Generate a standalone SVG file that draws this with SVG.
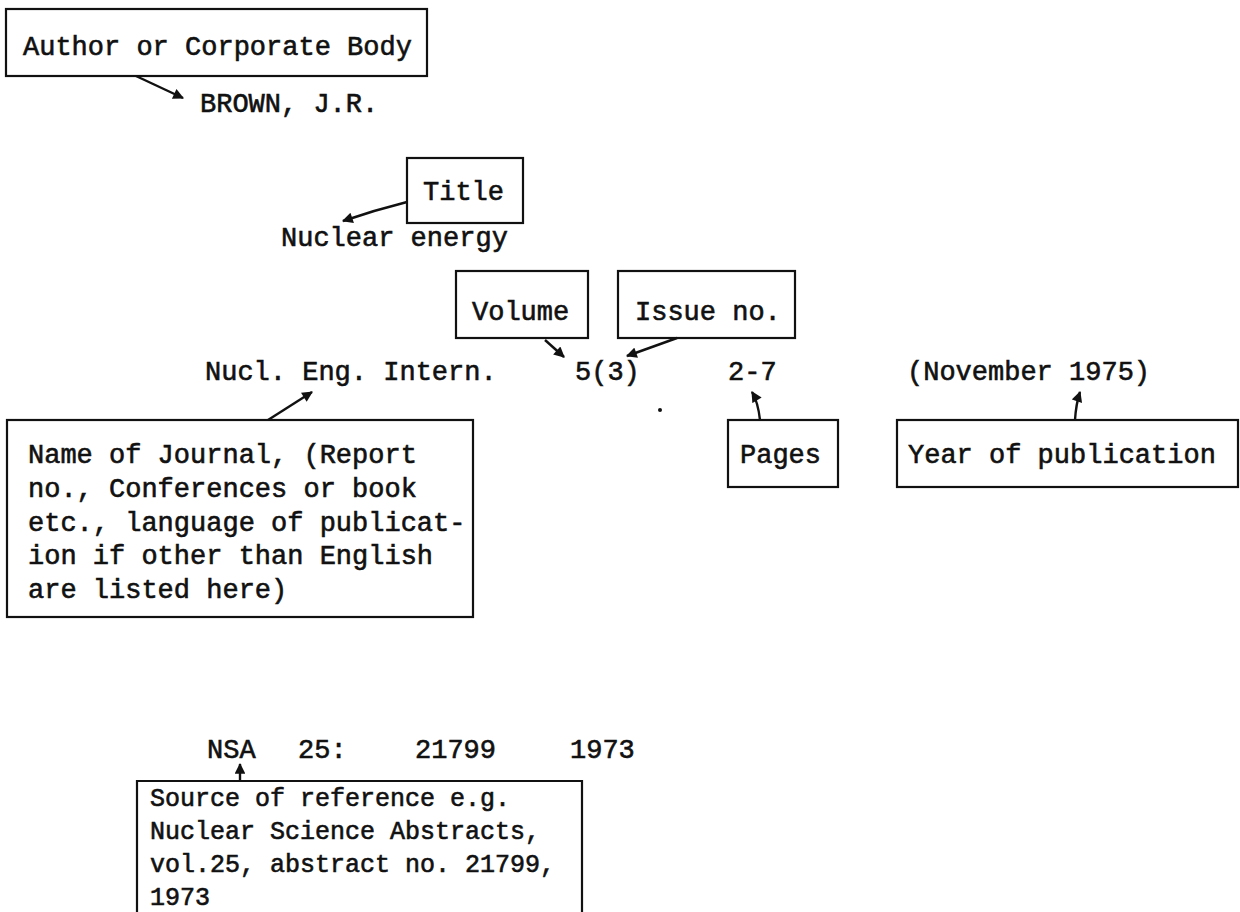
<svg xmlns="http://www.w3.org/2000/svg" width="1240" height="912" viewBox="0 0 1240 912">
<defs>
<style>
text{font-family:"Liberation Mono","DejaVu Sans Mono",monospace;font-size:27px;fill:#111;stroke:#111;stroke-width:0.6}
.sm{font-size:25px}
.box{fill:none;stroke:#111;stroke-width:2.2}
.con{fill:none;stroke:#111;stroke-width:2.4}
</style>
<marker id="ah" viewBox="0 0 10 10" refX="9" refY="5" markerWidth="5" markerHeight="4.5" orient="auto" markerUnits="strokeWidth">
<path d="M0,0 L10,5 L0,10 z" fill="#111"/>
</marker>
</defs>
<rect width="1240" height="912" fill="#fff"/>

<g id="author">
<rect class="box" x="6" y="9" width="421" height="67"/>
<text x="23" y="55">Author or Corporate Body</text>
</g>
<text x="200" y="112">BROWN, J.R.</text>

<g id="title">
<rect class="box" x="407" y="158" width="116" height="65"/>
<text x="423" y="200">Title</text>
</g>
<text x="281" y="246">Nuclear energy</text>

<g id="volume">
<rect class="box" x="456" y="271" width="132" height="67"/>
<text x="472" y="320">Volume</text>
</g>
<g id="issue">
<rect class="box" x="618" y="271" width="177" height="67"/>
<text x="635" y="320">Issue no.</text>
</g>

<text x="205" y="380">Nucl. Eng. Intern.</text>
<text x="575" y="380">5(3)</text>
<text x="728" y="380">2-7</text>
<text x="907" y="380">(November 1975)</text>

<g id="journal">
<rect class="box" x="7" y="420" width="466" height="197"/>
<text x="28" y="463">Name of Journal, (Report</text>
<text x="28" y="497">no., Conferences or book</text>
<text x="28" y="531">etc., language of publicat-</text>
<text x="28" y="564">ion if other than English</text>
<text x="28" y="598">are listed here)</text>
</g>

<g id="pages">
<rect class="box" x="728" y="420" width="110" height="67"/>
<text x="740" y="463">Pages</text>
</g>
<g id="year">
<rect class="box" x="897" y="420" width="341" height="67"/>
<text x="908" y="463">Year of publication</text>
</g>

<circle cx="660" cy="410" r="2" fill="#111"/>

<text x="207" y="758">NSA</text>
<text x="298" y="758">25:</text>
<text x="415" y="758">21799</text>
<text x="570" y="758">1973</text>

<g id="source">
<path class="box" d="M137,914 V781 H582 V914"/>
<text class="sm" x="150" y="806">Source of reference e.g.</text>
<text class="sm" x="150" y="839">Nuclear Science Abstracts,</text>
<text class="sm" x="150" y="872">vol.25, abstract no. 21799,</text>
<text class="sm" x="150" y="905">1973</text>
</g>

<g id="connectors">
<path class="con" d="M136,76 L183,98" marker-end="url(#ah)"/>
<path class="con" d="M407,202 Q375,210 343,221" marker-end="url(#ah)"/>
<path class="con" d="M545,340 L564,357" marker-end="url(#ah)"/>
<path class="con" d="M677,338 L627,356" marker-end="url(#ah)"/>
<path class="con" d="M268,420 L312,392" marker-end="url(#ah)"/>
<path class="con" d="M760,420 Q758,402 752,392" marker-end="url(#ah)"/>
<path class="con" d="M1075,420 Q1076,404 1080,392" marker-end="url(#ah)"/>
<path class="con" d="M240,781 L240,764" marker-end="url(#ah)"/>
</g>
</svg>
